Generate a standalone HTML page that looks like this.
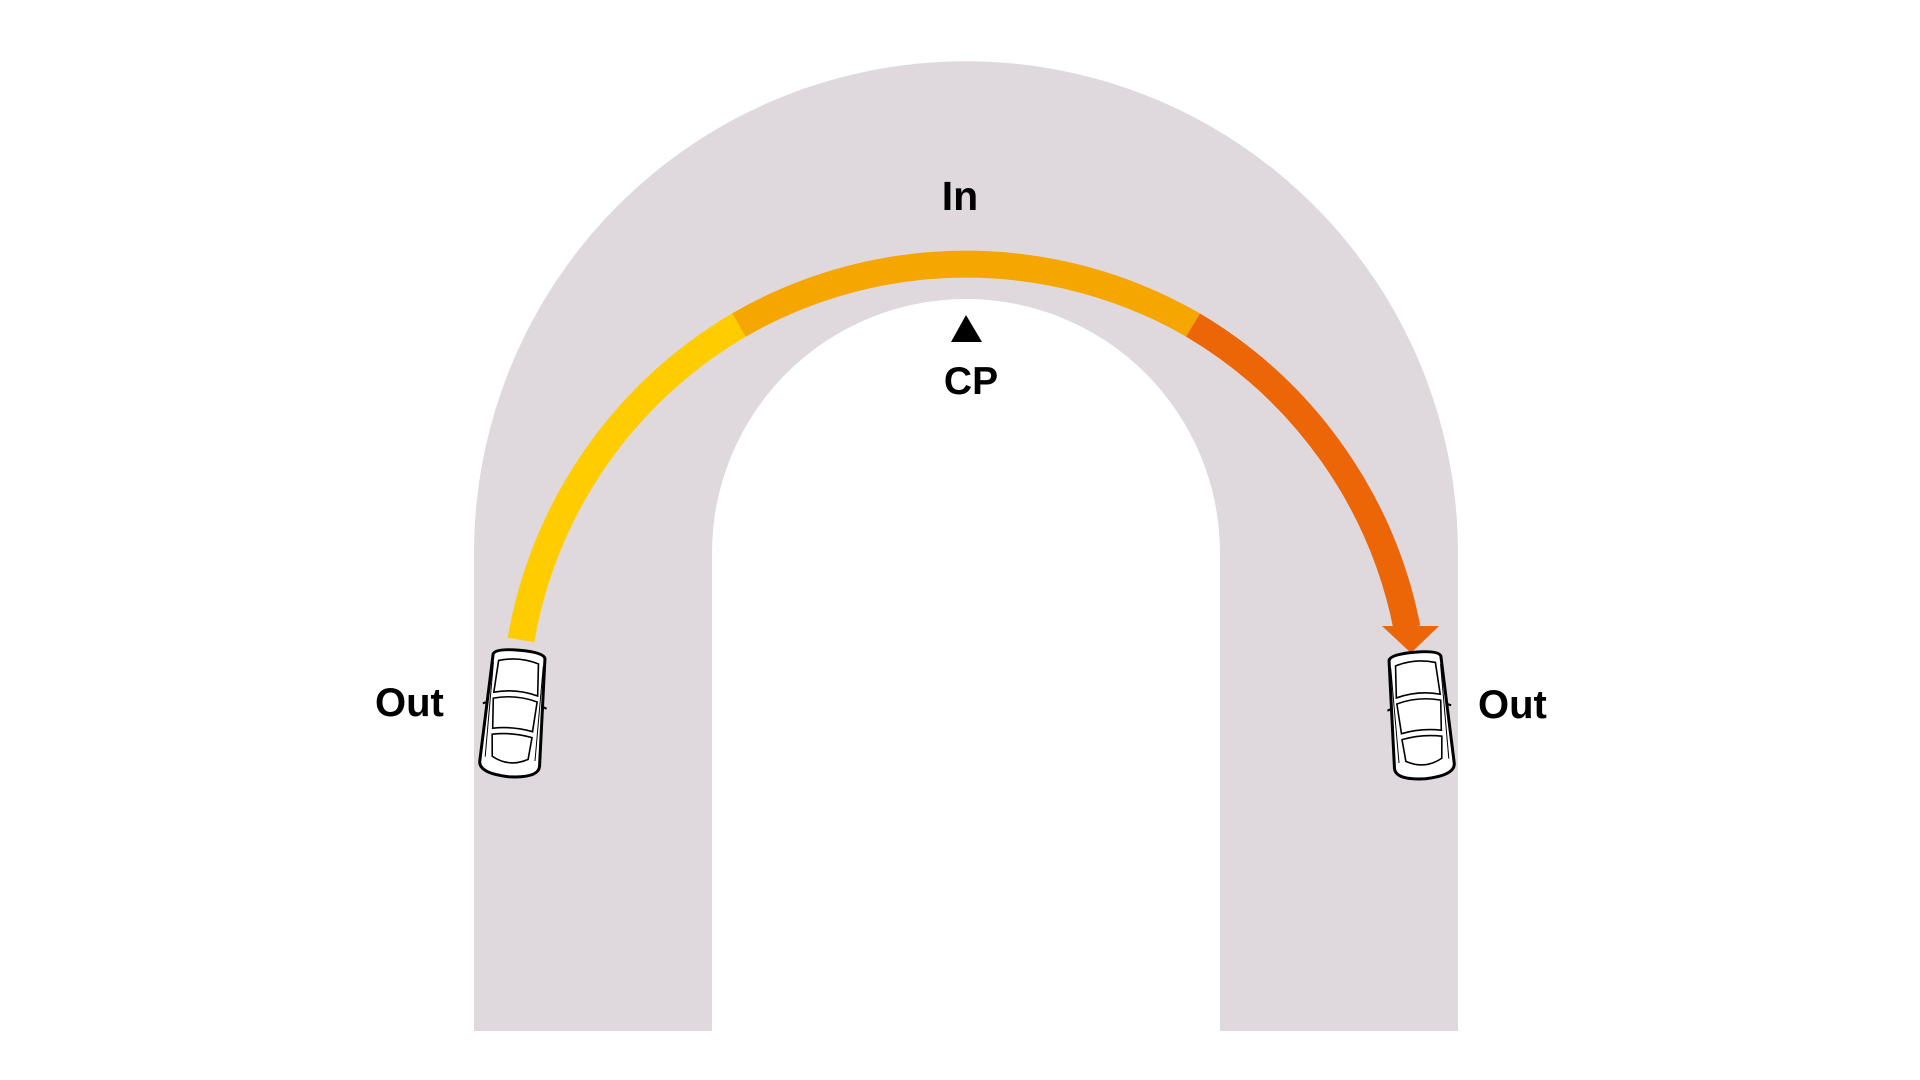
<!DOCTYPE html>
<html><head><meta charset="utf-8"><style>
html,body{margin:0;padding:0;background:#fff;width:1920px;height:1080px;overflow:hidden}
svg{display:block}
text{font-family:"Liberation Sans",Arial,sans-serif;font-weight:bold;fill:#000}
</style></head><body>
<svg width="1920" height="1080" viewBox="0 0 1920 1080" xmlns="http://www.w3.org/2000/svg">
<defs>
<g id="car">
  <path d="M-26,-58 Q-24,-64 0,-64 Q24,-64 26,-58 L30,50 Q30,62 0,63 Q-30,62 -30,50 Z" fill="#fff" stroke="#000" stroke-width="3"/>
  <path d="M-20,-52 Q0,-58 20,-52 L22,-20 Q0,-26 -22,-20 Z" fill="#fff" stroke="#000" stroke-width="1.6"/>
  <path d="M-22,-14 Q0,-20 22,-14 L20,16 Q0,12 -20,16 Z" fill="#fff" stroke="#000" stroke-width="1.6"/>
  <path d="M-20,22 Q0,18 20,22 L18,44 Q0,54 -18,44 Z" fill="#fff" stroke="#000" stroke-width="1.6"/>
  <path d="M-27,-10 L-32,-8 M27,-10 L32,-8" stroke="#000" stroke-width="2"/>
  <path d="M-25,-50 L-25,45 M25,-50 L25,45" stroke="#000" stroke-width="1"/>
</g>
</defs>
<path d="M474,1031 L474,553 A492,492 0 0 1 1458,553 L1458,1031 L1220,1031 L1220,553 A254,254 0 0 0 712,553 L712,1031 Z" fill="#dfd9de"/>
<!-- racing line: circle center (966,719) r=454 -->
<path d="M521,640 A454,454 0 0 1 739,325" fill="none" stroke="#ffcc00" stroke-width="27"/>
<path d="M739,325 A454,454 0 0 1 1193,325" fill="none" stroke="#f5a600" stroke-width="27"/>
<path d="M1193,325 A454,454 0 0 1 1407,628" fill="none" stroke="#ec6608" stroke-width="27"/>
<polygon points="1382,626 1439,626 1411,653" fill="#ec6608"/>
<polygon points="966,315 951,342 982,342" fill="#000"/>
<text x="960" y="210" font-size="41" text-anchor="middle">In</text>
<text x="971" y="394" font-size="39" text-anchor="middle">CP</text>
<text x="375" y="716" font-size="40">Out</text>
<text x="1478" y="718" font-size="40">Out</text>
<use href="#car" transform="translate(514,714) rotate(5)"/>
<use href="#car" transform="translate(1420,716) rotate(-5)"/>
</svg>
</body></html>
